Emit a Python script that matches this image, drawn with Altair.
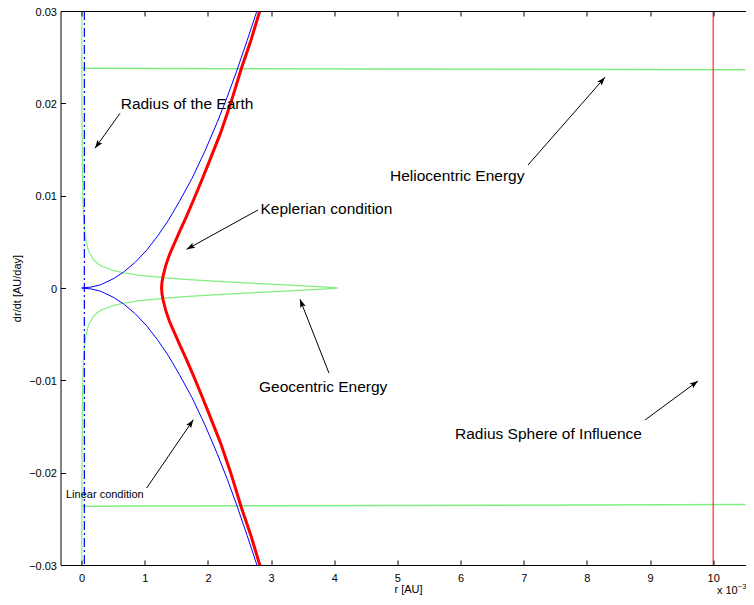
import math
import altair as alt
import pandas as pd

# ---------------- data ----------------
# Keplerian condition (upper branch, mirrored below), r in 1e-3 AU, v in AU/day
kepler_r = [1.265, 1.272, 1.29, 1.33, 1.39, 1.46, 1.55, 1.65, 1.77, 1.91, 2.05, 2.20, 2.36, 2.53, 2.68, 2.82, 2.88]
kepler_v = [0.0, 0.0006, 0.0013, 0.0024, 0.0036, 0.0047, 0.0061, 0.0076, 0.0095, 0.0118, 0.0142, 0.0168, 0.0200, 0.0238, 0.0268, 0.0300, 0.0313]

# Linear condition (upper branch, mirrored below)
linear_r = [0.0, 0.15, 0.30, 0.50, 0.66, 0.85, 1.03, 1.20, 1.37, 1.55, 1.75, 1.95, 2.15, 2.30, 2.45, 2.62, 2.78, 2.86]
linear_v = [0.0, 0.0001, 0.00035, 0.0010, 0.0017, 0.0028, 0.0041, 0.0056, 0.0073, 0.0094, 0.0119, 0.0148, 0.0180, 0.0206, 0.0234, 0.0268, 0.0301, 0.0319]

# Geocentric energy (from the tip outwards, mirrored below)
geo_r = [4.06, 4.0, 3.8, 3.5, 3.14, 2.6, 2.08, 1.7, 1.29, 0.9, 0.66, 0.5, 0.34, 0.26, 0.184, 0.14, 0.105, 0.08, 0.06, 0.043, 0.03, 0.02, 0.01, 0.005, 0.002]
geo_v = [0.0, 0.00004, 0.00013, 0.00024, 0.00036, 0.00055, 0.00074, 0.0009, 0.00112, 0.0014, 0.00165, 0.0019, 0.0023, 0.0026, 0.0031, 0.0036, 0.0041, 0.0048, 0.0055, 0.0065, 0.0078, 0.0095, 0.0135, 0.019, 0.0302]

# Heliocentric energy (two nearly flat branches)
helio_r = [0.0, 5.0, 10.7]
helio_v_upper = [0.0238, 0.02372, 0.02364]
helio_v_lower = [-0.02365, -0.02355, -0.02345]

earth_radius = [0.0426]
soi_radius = [10.0]

x_ticks = [0, 1, 2, 3, 4, 5, 6, 7, 8, 9, 10]
y_ticks = [-0.03, -0.02, -0.01, 0.0, 0.01, 0.02, 0.03]

label_text = ["Radius of the Earth", "Keplerian condition", "Heliocentric Energy",
              "Geocentric Energy", "Radius Sphere of Influence", "Linear condition"]
label_r = [0.618, 2.832, 4.883, 2.808, 5.912, -0.248]
label_v = [0.01939, 0.00798, 0.01161, -0.01121, -0.0163, -0.02278]
label_size = [15.5, 15.5, 15.5, 15.5, 15.5, 11]

arrow_tail_r = [0.607, 2.792, 7.068, 3.916, 8.920, 1.030]
arrow_tail_v = [0.01892, 0.00845, 0.01332, -0.00921, -0.0143, -0.02166]
arrow_head_r = [0.211, 1.663, 8.287, 3.457, 9.760, 1.768]
arrow_head_v = [0.01513, 0.00419, 0.02282, -0.00122, -0.01007, -0.01426]

exp_text = ["x 10", "\u22123"]
exp_r = [10.06, 10.39]
exp_v = [-0.03314, -0.03255]
exp_size = [11, 7.5]

# ---------------- layout ----------------
FONT = "Liberation Sans"
W, H = 685, 554
XMIN = -0.335
XMAX = XMIN + W / 63.15
YMIN, YMAX = -0.03, 0.03
GREEN = "#80ef80"

xs = alt.Scale(domain=[XMIN, XMAX], nice=False, zero=False)
ys = alt.Scale(domain=[YMIN, YMAX], nice=False, zero=False)


def mirror(rs, vs):
    rows = []
    for k in range(len(rs) - 1, -1, -1):
        rows.append((rs[k], vs[k]))
    for k in range(1, len(rs)):
        rows.append((rs[k], -vs[k]))
    return pd.DataFrame({"r": [a for a, _ in rows], "v": [b for _, b in rows], "i": list(range(len(rows)))})


def X(axis=None, field="r"):
    return alt.X(f"{field}:Q", scale=xs, axis=axis)


def Y(axis=None, field="v"):
    return alt.Y(f"{field}:Q", scale=ys, axis=axis)


common_tick = dict(domain=False, labels=False, ticks=True, tickSize=5, tickColor="black",
                   tickWidth=1, grid=False, offset=-5, zindex=2, title=None)

ax_bottom = alt.Axis(orient="bottom", values=x_ticks, format="d", domain=True, domainColor="black",
                     domainWidth=1, ticks=False, grid=False, labelPadding=7, labelFont=FONT,
                     labelFontSize=11, labelColor="black", labelOverlap=False, labelFlush=False,
                     title="r [AU]", titleFont=FONT, titleFontSize=11, titleFontWeight="normal",
                     titleColor="black", titleX=347.5, titleY=27, titleBaseline="alphabetic", zindex=2)
ax_left = alt.Axis(orient="left", values=y_ticks,
                   labelExpr="datum.value == 0 ? '0' : format(datum.value, '.2f')",
                   domain=True, domainColor="black", domainWidth=1, ticks=False, grid=False,
                   labelPadding=4, labelOffset=1, labelFont=FONT, labelFontSize=11, labelColor="black",
                   labelOverlap=False, labelFlush=False, labelBound=False,
                   title="dr/dt [AU/day]", titleFont=FONT, titleFontSize=11, titleFontWeight="normal",
                   titleColor="black", titleX=-38, titleY=H / 2, titleBaseline="bottom", titleAngle=270,
                   zindex=2)
ax_top_line = alt.Axis(orient="top", domain=True, domainColor="black", domainWidth=1, ticks=False,
                       labels=False, grid=False, title=None, zindex=2)
ax_bottom_ticks = alt.Axis(orient="bottom", values=x_ticks, **common_tick)
ax_top_ticks = alt.Axis(orient="top", values=x_ticks, **common_tick)
ax_left_ticks = alt.Axis(orient="left", values=y_ticks, **common_tick)

# ---------------- data frames ----------------
kep_df = mirror(kepler_r, kepler_v)
lin_df = mirror(linear_r, linear_v)
geo_df = mirror(geo_r, geo_v)
helio_df = pd.DataFrame({
    "r": helio_r + helio_r,
    "v": helio_v_upper + helio_v_lower,
    "branch": ["upper"] * len(helio_r) + ["lower"] * len(helio_r),
})

pxx = W / (XMAX - XMIN)
pxy = H / (YMAX - YMIN)
angles = []
for tr, tv, hr, hv in zip(arrow_tail_r, arrow_tail_v, arrow_head_r, arrow_head_v):
    dx = (hr - tr) * pxx
    dy = -(hv - tv) * pxy
    angles.append(math.degrees(math.atan2(dx, -dy)) % 360)
arrow_df = pd.DataFrame({"r": arrow_tail_r, "v": arrow_tail_v, "r2": arrow_head_r, "v2": arrow_head_v,
                         "ang": angles})
label_df = pd.DataFrame({"r": label_r, "v": label_v, "t": label_text, "fs": label_size})
exp_df = pd.DataFrame({"r": exp_r, "v": exp_v, "t": exp_text, "fs": exp_size})

# ---------------- layers ----------------
helio = alt.Chart(helio_df).mark_line(color=GREEN, strokeWidth=1.5, clip=True).encode(
    x=X(ax_bottom), y=Y(ax_left), detail="branch:N")
geo = alt.Chart(geo_df).mark_line(color=GREEN, strokeWidth=1.2, clip=True).encode(
    x=X(ax_top_line), y=Y(ax_left_ticks), order=alt.Order("i:Q"))
lin = alt.Chart(lin_df).mark_line(color="#0000ff", strokeWidth=1, clip=True).encode(
    x=X(ax_bottom_ticks), y=Y(), order=alt.Order("i:Q"))
kep = alt.Chart(kep_df).mark_line(color="#ff0000", strokeWidth=3, clip=True).encode(
    x=X(ax_top_ticks), y=Y(), order=alt.Order("i:Q"))
earth = alt.Chart(pd.DataFrame({"r": earth_radius})).mark_rule(
    color="#0000ff", strokeWidth=1.2, strokeDash=[9, 3, 2, 3]).encode(x=X())
soi = alt.Chart(pd.DataFrame({"r": soi_radius})).mark_rule(color="#ff0000", strokeWidth=1).encode(x=X())

shafts = alt.Chart(arrow_df).mark_rule(color="black", strokeWidth=1).encode(
    x=X(), y=Y(), x2="r2:Q", y2="v2:Q")
heads = alt.Chart(arrow_df).mark_point(
    shape="M0,0L0.7,2L0,1.6L-0.7,2Z", filled=True, color="black", opacity=1, size=70,
    strokeWidth=0).encode(x=X(field="r2"), y=Y(field="v2"), angle=alt.Angle("ang:Q", scale=None))
labels = alt.Chart(label_df).mark_text(align="left", baseline="alphabetic", font=FONT, color="black").encode(
    x=X(), y=Y(), text="t:N", size=alt.Size("fs:Q", scale=None, legend=None))
expo = alt.Chart(exp_df).mark_text(align="left", baseline="alphabetic", font=FONT, color="black").encode(
    x=X(), y=Y(), text="t:N", size=alt.Size("fs:Q", scale=None, legend=None))

chart = alt.layer(helio, geo, lin, kep, earth, soi, shafts, heads, labels, expo).resolve_axis(
    x="independent", y="independent"
).properties(
    width=W, height=H, autosize="none",
    padding={"left": 52.5, "top": 3, "right": 0, "bottom": 32},
    background="white",
).configure_view(stroke=None)

chart.save("out.html", embed_options={"renderer": "svg", "actions": False})
